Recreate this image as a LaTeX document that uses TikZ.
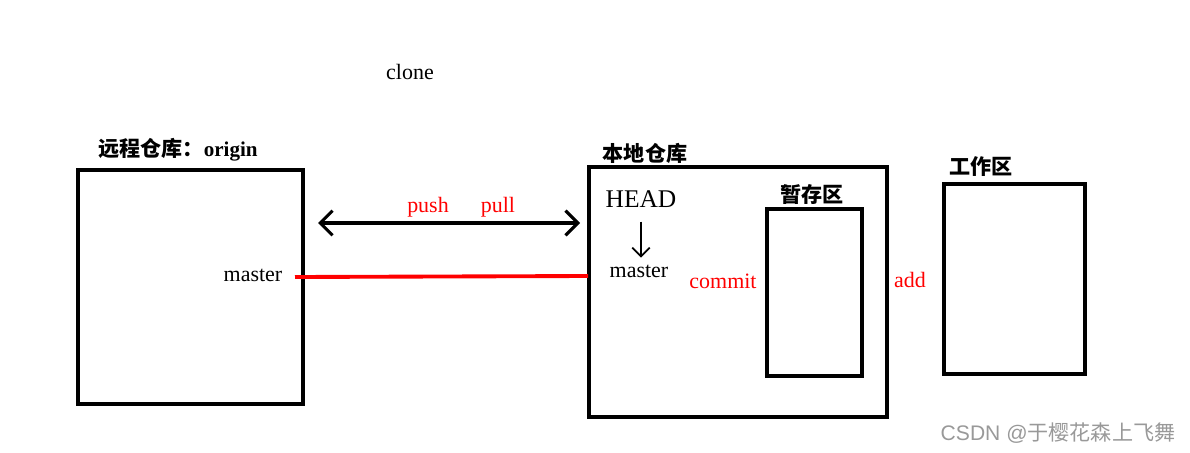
\documentclass[tikz,border=0pt]{standalone}
\usepackage{fontspec}
\setmainfont{Liberation Serif}
\newfontfamily\cjk{Noto Sans CJK SC}
\newfontfamily\wm{Liberation Sans}
\usetikzlibrary{arrows.meta}
\begin{document}
\begin{tikzpicture}[x=0.02cm,y=-0.02cm,
  box/.style={draw,line width=2.2pt},
  lbl/.style={font=\fontsize{12.5}{15}\selectfont},
  rlbl/.style={font=\fontsize{12.5}{15}\selectfont,text=red},
  clbl/.style={font=\cjk\bfseries\fontsize{12}{14}\selectfont}]
\useasboundingbox (0,0) rectangle (1190,453);
\draw[box] (78,170) rectangle (303,404);
\draw[box] (589,167) rectangle (887,417);
\draw[box] (767,209) rectangle (862,376);
\draw[box] (944,184) rectangle (1085,374);
\node[lbl] (clone) at (410,72) {clone};
\node[clbl] (rl) at (178,150) {远程仓库：\rmfamily origin};
\node[clbl] (ll) at (645,153) {本地仓库};
\node[clbl] (sl) at (812,194) {暂存区};
\node[clbl] (wl) at (981,167) {工作区};
\node[rlbl] (push) at (428,207) {push};
\node[rlbl] (pull) at (498,207) {pull};
\coordinate (a1) at (318,223);
\coordinate (a2) at (580,223);
\draw[line width=1.8pt,{Straight Barb[length=7pt,width=14pt]}-{Straight Barb[length=7pt,width=14pt]}] (a1) -- (a2);
\node[font=\fontsize{14.5}{17}\selectfont] (head) at (641,199) {HEAD};
\node[lbl] (m2) at (639,271) {master};
\draw[line width=1pt,-{Straight Barb[length=5pt,width=10pt]}] (head.south) ++(0,8) coordinate (h1) -- ++(0,36);
\node[lbl] (m1) at (253,275) {master};
\coordinate (r1) at (295,277);
\coordinate (r2) at (588,276);
\draw[red,line width=2.2pt] (r1) -- (r2);
\node[rlbl] (commit) at (723,281) {commit};
\node[rlbl] (add) at (910,280) {add};
\node[font=\wm\fontsize{12}{14}\selectfont,text=gray!80] (wm) at (1058,433) {CSDN @{\cjk 于樱花森上飞舞}};
\end{tikzpicture}
\end{document}
